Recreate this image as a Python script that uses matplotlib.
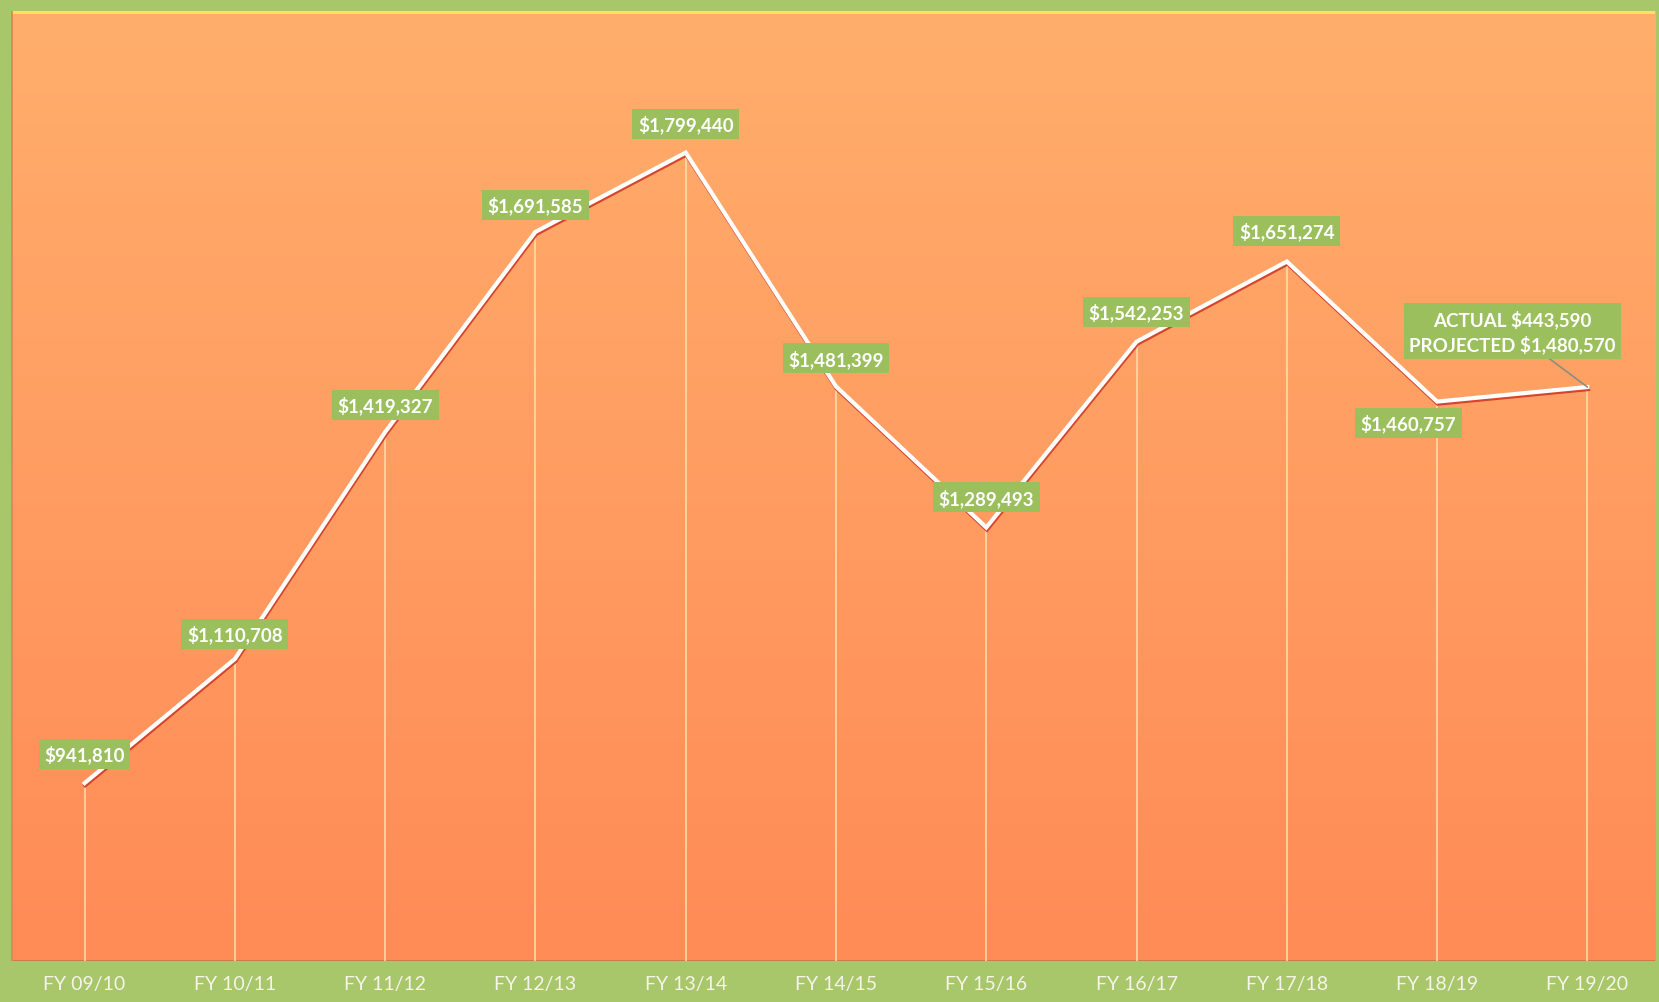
from matplotlib import pyplot as plt
from matplotlib import patheffects as pe
import numpy as np

years = ['FY 09/10', 'FY 10/11', 'FY 11/12', 'FY 12/13', 'FY 13/14', 'FY 14/15',
         'FY 15/16', 'FY 16/17', 'FY 17/18', 'FY 18/19', 'FY 19/20']
revenue = [941810, 1110708, 1419327, 1691585, 1799440, 1481399,
           1289493, 1542253, 1651274, 1460757, 1480570]
actual_last = 443590

labels = ['${:,}'.format(v) for v in revenue]
labels[-1] = 'ACTUAL ${:,}\nPROJECTED ${:,}'.format(actual_last, revenue[-1])

# label offsets in pixels (dx, dy)
offsets = [(0, 29), (0, 25), (0, 27), (0, 27), (0, 29), (0, 28),
           (0, 30), (0, 30), (0, 31), (-29, -21), (-75, 56)]

GREEN = '#a8c66a'
BOX = '#9cbf5e'


def main():
    fig = plt.figure(figsize=(16.59, 10.03), dpi=100, facecolor=GREEN)
    ax = fig.add_axes([0.0066, 0.041, 0.991, 0.947])
    x = np.arange(len(years))
    ylo, yhi = 700000, 1992000
    ax.set_xlim(-0.49, 10.45)
    ax.set_ylim(ylo, yhi)

    # orange gradient background
    grad = np.linspace(0, 1, 256).reshape(-1, 1)
    top = np.array([255, 174, 108]) / 255
    bot = np.array([255, 139, 87]) / 255
    img = top + (bot - top) * grad[..., None]
    ax.imshow(img, extent=[-0.49, 10.45, ylo, yhi], aspect='auto',
              origin='upper', zorder=0)

    # borders
    ax.axhline(yhi, color='#ffe35c', lw=3.5, zorder=1)
    ax.axhline(ylo, color='#c8784e', lw=2, zorder=1)
    ax.axvline(-0.49, color='#d88a5a', lw=2, zorder=1)

    # drop lines
    ax.vlines(x, ylo, revenue, color='#ffe7b0', lw=1.2, alpha=0.85, zorder=2)

    ax.plot(x, revenue, color='white', lw=3.0, zorder=3, solid_joinstyle='miter',
            path_effects=[pe.SimpleLineShadow(offset=(0.5, -1.5), shadow_color='#d23a26', alpha=0.9),
                          pe.Normal()])

    for i, (val, lab) in enumerate(zip(revenue, labels)):
        dx, dy = offsets[i]
        arrow = None
        if i == len(revenue) - 1:
            arrow = dict(arrowstyle='-', color='#8a8f80', lw=1.2, shrinkA=0, shrinkB=0)
        ax.annotate(lab, (x[i], val), xytext=(dx, dy), textcoords='offset pixels',
                    ha='center', va='center', color='white', fontsize=13.5,
                    fontweight='bold', family='Lato', linespacing=1.4,
                    bbox=dict(boxstyle='square,pad=0.3', fc=BOX, ec='none'),
                    arrowprops=arrow, zorder=5)

    ax.set_xticks(x)
    ax.set_xticklabels(years, family='Lato', fontsize=14)
    ax.tick_params(axis='x', length=0, pad=10, labelcolor='#f6f4e8')
    ax.set_yticks([])
    for s in ax.spines.values():
        s.set_visible(False)

    fig.savefig('out.png', dpi=100, facecolor=GREEN)


if __name__ == '__main__':
    main()
